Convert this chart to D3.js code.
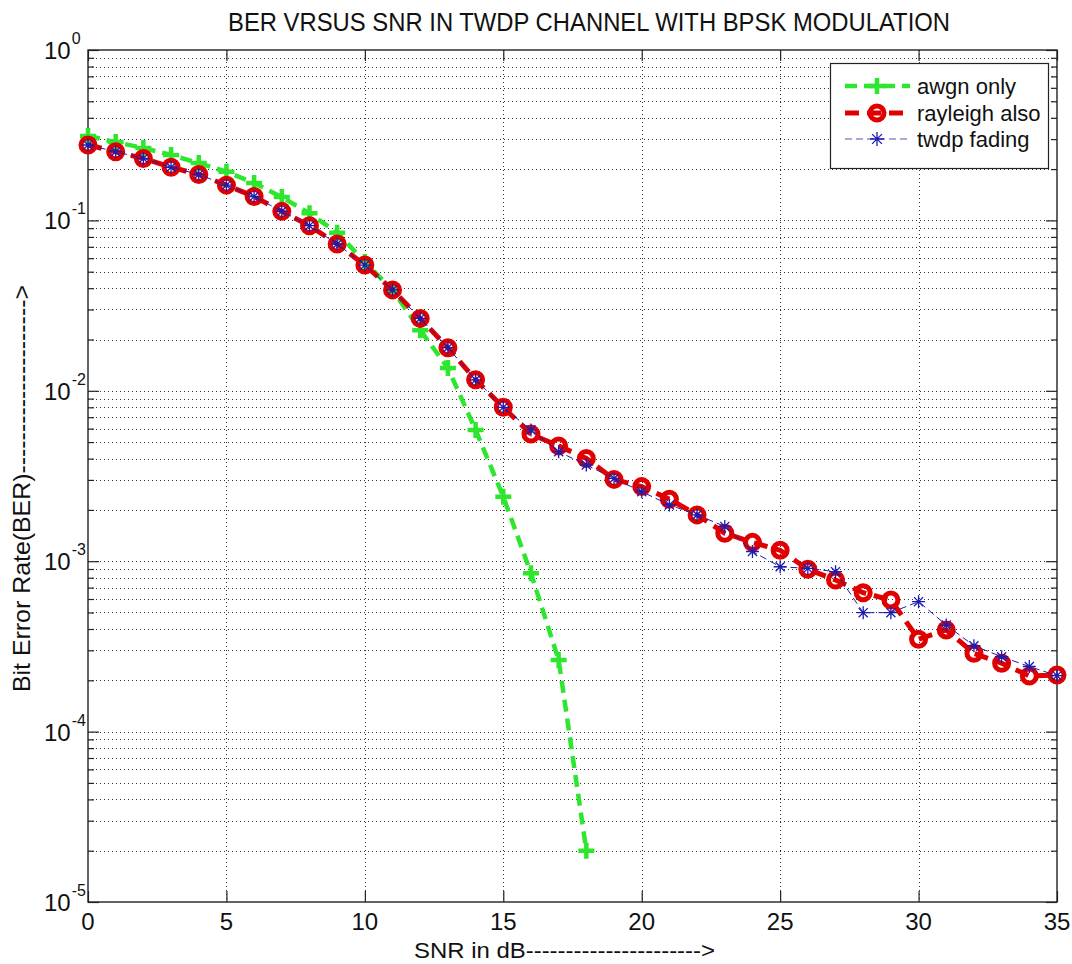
<!DOCTYPE html>
<html>
<head>
<meta charset="utf-8">
<script src="https://cdn.jsdelivr.net/npm/d3@7"></script>
<style>
  html, body { margin: 0; padding: 0; background: #fff; }
  svg { display: block; }
  text { font-family: "Liberation Sans", Arial, sans-serif; fill: #111; }
</style>
</head>
<body>
<svg id="chart" width="1072" height="964"></svg>
<script>
// SNR values (dB) for each simulated point
const snrAwgn = d3.range(0, 19);
const snrFading = d3.range(0, 36);

// Bit error rate, AWGN channel only
const berAwgn = [0.313, 0.288, 0.266, 0.242, 0.217, 0.193, 0.166, 0.137, 0.110, 0.0847,
                 0.057, 0.039, 0.0227, 0.0136, 0.00589, 0.00239, 0.00085, 0.000263, 0.00002];

// Bit error rate, Rayleigh fading added
const berRayleigh = [0.277, 0.253, 0.231, 0.205, 0.186, 0.161, 0.138, 0.113, 0.0931, 0.0727,
                     0.0547, 0.0391, 0.0266, 0.0179, 0.0116, 0.0080, 0.00557, 0.00475, 0.00401, 0.00302,
                     0.00274, 0.00231, 0.00187, 0.00146, 0.00129, 0.00116, 0.000896, 0.000776, 0.000653, 0.000592,
                     0.000348, 0.000395, 0.000288, 0.000252, 0.000212, 0.000215];

// Bit error rate, TWDP fading
const berTwdp = [0.277, 0.253, 0.231, 0.205, 0.186, 0.161, 0.138, 0.113, 0.0931, 0.0727,
                 0.0547, 0.0391, 0.0266, 0.0179, 0.0116, 0.0080, 0.00589, 0.00439, 0.00367, 0.00306,
                 0.00256, 0.00214, 0.00187, 0.00160, 0.00114, 0.000928, 0.000908, 0.000868, 0.000499, 0.000499,
                 0.000579, 0.000422, 0.000319, 0.000275, 0.000241, 0.000213];

const xTicks = [0, 5, 10, 15, 20, 25, 30, 35];
const yDecades = [-5, -4, -3, -2, -1, 0];
const legendLabels = ["awgn only", "rayleigh also", "twdp fading"];

const titleText = "BER VRSUS SNR IN TWDP CHANNEL WITH BPSK MODULATION";
const xLabelText = "SNR in dB---------------------->";
const yLabelText = "Bit Error Rate(BER)--------------------->";

const svg = d3.select("#chart");
const L = 88, R = 1057, T = 50, B = 902;

const x = d3.scaleLinear().domain([0, 35]).range([L, R]);
const y = d3.scaleLog().domain([1e-5, 1]).range([B, T]);

// minor values 2..9 per decade
const minorVals = [];
yDecades.slice(0, -1).forEach(e => {
  for (let m = 2; m <= 9; m++) minorVals.push(m * Math.pow(10, e));
});
const majorVals = yDecades.map(e => Math.pow(10, e));

// dotted grid
const grid = svg.append("g").attr("stroke", "#333").attr("stroke-width", 1)
  .attr("stroke-dasharray", "1,3").attr("shape-rendering", "crispEdges");
grid.selectAll("line.h").data(majorVals.concat(minorVals).filter(v => v > 1e-5 && v < 1))
  .join("line").attr("class", "h")
  .attr("x1", L).attr("x2", R)
  .attr("y1", d => Math.round(y(d)) + 0.5).attr("y2", d => Math.round(y(d)) + 0.5);
grid.selectAll("line.v").data(xTicks.filter(v => v > 0 && v < 35))
  .join("line").attr("class", "v")
  .attr("y1", T).attr("y2", B)
  .attr("x1", d => Math.round(x(d)) + 0.5).attr("x2", d => Math.round(x(d)) + 0.5);

// axes with inward ticks on all four sides
const axG = svg.append("g");
axG.append("g").attr("transform", `translate(0,${B})`)
  .call(d3.axisBottom(x).tickValues(xTicks).tickSize(-11).tickFormat(""));
axG.append("g").attr("transform", `translate(0,${T})`)
  .call(d3.axisTop(x).tickValues(xTicks).tickSize(-11).tickFormat(""));
axG.append("g").attr("transform", `translate(${L},0)`)
  .call(d3.axisLeft(y).tickValues(majorVals).tickSize(-11).tickFormat(""));
axG.append("g").attr("transform", `translate(${L},0)`)
  .call(d3.axisLeft(y).tickValues(minorVals).tickSize(-6).tickFormat(""));
axG.append("g").attr("transform", `translate(${R},0)`)
  .call(d3.axisRight(y).tickValues(majorVals).tickSize(-11).tickFormat(""));
axG.append("g").attr("transform", `translate(${R},0)`)
  .call(d3.axisRight(y).tickValues(minorVals).tickSize(-6).tickFormat(""));
axG.selectAll(".domain").remove();
axG.selectAll(".tick line").attr("stroke", "#222").attr("stroke-width", 1.2);

svg.append("rect").attr("x", L).attr("y", T).attr("width", R - L).attr("height", B - T)
  .attr("fill", "none").attr("stroke", "#222").attr("stroke-width", 1.4);

// tick labels
svg.append("g").selectAll("text").data(xTicks).join("text")
  .attr("x", d => x(d)).attr("y", 930)
  .attr("text-anchor", "middle").attr("font-size", 24)
  .text(d => d);

const yl = svg.append("g").selectAll("text").data(yDecades).join("text")
  .attr("x", 44).attr("y", d => y(Math.pow(10, d)) + 9)
  .attr("font-size", 24);
yl.append("tspan").text("10");
yl.append("tspan").attr("font-size", 16).attr("dy", -15).attr("dx", 1).text(d => d);

// title and axis labels
svg.append("text").attr("x", 589).attr("y", 31).attr("text-anchor", "middle")
  .attr("font-size", 26).attr("textLength", 722).attr("lengthAdjust", "spacingAndGlyphs")
  .text(titleText);
svg.append("text").attr("x", 414).attr("y", 958)
  .attr("font-size", 22).attr("textLength", 301).attr("lengthAdjust", "spacingAndGlyphs")
  .text(xLabelText);
svg.append("text").attr("transform", "translate(30,692) rotate(-90)")
  .attr("font-size", 24).attr("textLength", 407).attr("lengthAdjust", "spacingAndGlyphs")
  .text(yLabelText);

// series
const plot = svg.append("g");
const line = d3.line().x(d => x(d[0])).y(d => y(d[1]));

const green = "#2ee62e", red = "#e00000", blue = "#1c1cb0";

const awgnPts = snrAwgn.map((s, i) => [s, berAwgn[i]]);
const rayPts = snrFading.map((s, i) => [s, berRayleigh[i]]);
const twdpPts = snrFading.map((s, i) => [s, berTwdp[i]]);

function plusPath(cx, cy, size) {
  return `M${cx - size},${cy}H${cx + size}M${cx},${cy - size}V${cy + size}`;
}
function starPath(cx, cy, size) {
  const s2 = size * 0.7;
  return plusPath(cx, cy, size) +
    `M${cx - s2},${cy - s2}L${cx + s2},${cy + s2}M${cx - s2},${cy + s2}L${cx + s2},${cy - s2}`;
}

// awgn only
const gA = plot.append("g");
gA.append("path").datum(awgnPts).attr("d", line)
  .attr("fill", "none").attr("stroke", green).attr("stroke-width", 4.5)
  .attr("stroke-dasharray", "12,7");
gA.selectAll(null).data(awgnPts).join("path")
  .attr("d", d => plusPath(x(d[0]), y(d[1]), 8))
  .attr("stroke", green).attr("stroke-width", 4.5).attr("fill", "none");

// rayleigh also
const gR = plot.append("g");
gR.append("path").datum(rayPts).attr("d", line)
  .attr("fill", "none").attr("stroke", red).attr("stroke-width", 5)
  .attr("stroke-dasharray", "14,8");
gR.selectAll("circle").data(rayPts).join("circle")
  .attr("cx", d => x(d[0])).attr("cy", d => y(d[1])).attr("r", 7)
  .attr("fill", "none").attr("stroke", red).attr("stroke-width", 5);

// twdp fading
const gT = plot.append("g");
gT.append("path").datum(twdpPts).attr("d", line)
  .attr("fill", "none").attr("stroke", blue).attr("stroke-width", 1)
  .attr("stroke-dasharray", "7,4");
gT.selectAll(null).data(twdpPts).join("path")
  .attr("d", d => starPath(x(d[0]), y(d[1]), 6.5))
  .attr("stroke", blue).attr("stroke-width", 1.3).attr("fill", "none");

// legend
const lg = svg.append("g");
lg.append("rect").attr("x", 830.5).attr("y", 63.5).attr("width", 218).attr("height", 105)
  .attr("fill", "#fff").attr("stroke", "#222").attr("stroke-width", 1.2);
const rowsY = [86, 113, 139];
const lx1 = 845, lx2 = 910, lmx = 877;
lg.append("line").attr("x1", lx1).attr("x2", lx2).attr("y1", rowsY[0]).attr("y2", rowsY[0])
  .attr("stroke", green).attr("stroke-width", 4.5).attr("stroke-dasharray", "12,7");
lg.append("path").attr("d", plusPath(lmx, rowsY[0], 8))
  .attr("stroke", green).attr("stroke-width", 4.5);
lg.append("line").attr("x1", lx1).attr("x2", lx2).attr("y1", rowsY[1]).attr("y2", rowsY[1])
  .attr("stroke", red).attr("stroke-width", 5).attr("stroke-dasharray", "14,8");
lg.append("circle").attr("cx", lmx).attr("cy", rowsY[1]).attr("r", 7)
  .attr("fill", "none").attr("stroke", red).attr("stroke-width", 5);
lg.append("line").attr("x1", lx1).attr("x2", lx2).attr("y1", rowsY[2]).attr("y2", rowsY[2])
  .attr("stroke", "#5555aa").attr("stroke-width", 1.2).attr("stroke-dasharray", "7,4");
lg.append("path").attr("d", starPath(lmx, rowsY[2], 7))
  .attr("stroke", blue).attr("stroke-width", 1.3);
lg.selectAll("text").data(legendLabels).join("text")
  .attr("x", 917).attr("y", (d, i) => rowsY[i] + 8)
  .attr("font-size", 22).text(d => d);
</script>
</body>
</html>
